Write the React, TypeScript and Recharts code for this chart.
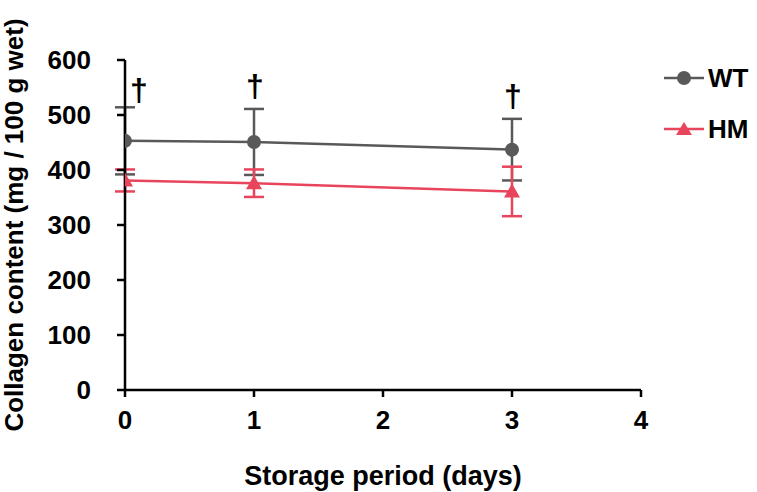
import React from "react";
import {
  ComposedChart,
  Line,
  Scatter,
  XAxis,
  YAxis,
  Legend,
  ErrorBar,
} from "recharts";

const FONT = "'Liberation Sans', Arial, sans-serif";
const WT_COLOR = "#595959";
const HM_COLOR = "#E8455C";

// storage days
const days = [0, 1, 3];
// wild type
const wtMean = [453, 451, 437];
const wtSd = [61, 60, 56];
// HM
const hmMean = [381, 376, 361];
const hmSd = [20, 25, 45];

const xTicks = [0, 1, 2, 3, 4];
const yTicks = [0, 100, 200, 300, 400, 500, 600];

const data = days.map((d, i) => ({
  day: d,
  wt: wtMean[i],
  wtErr: wtSd[i],
  hm: hmMean[i],
  hmErr: hmSd[i],
}));

// dagger marks sit on top of the WT error bar
const daggers = days.map((d, i) => ({ day: d, top: wtMean[i] + wtSd[i] }));

const tickStyle = { fontFamily: FONT, fontSize: 26, fontWeight: 700, fill: "#000" };
const labelStyle = { fontFamily: FONT, fontSize: 26, fontWeight: 700, fill: "#000" };

const Dagger = (props: any) => {
  const { cx, cy, payload } = props;
  if (cx == null || cy == null) return null;
  const first = payload.day === 0;
  return (
    <text
      x={cx + (first ? 14 : 1)}
      y={cy - (first ? 6 : 12)}
      textAnchor="middle"
      fontFamily={FONT}
      fontSize={32}
      fontWeight={700}
      fill="#000"
    >
      †
    </text>
  );
};

const legendItems = [
  { name: "WT", color: WT_COLOR, shape: "circle" },
  { name: "HM", color: HM_COLOR, shape: "triangle" },
];

const LegendBox = () => (
  <div style={{ fontFamily: FONT }}>
    {legendItems.map((it, i) => (
      <div
        key={it.name}
        style={{ display: "flex", alignItems: "center", height: 30, marginBottom: i === 0 ? 21 : 0 }}
      >
        <svg width={44} height={30}>
          <line x1={2} y1={15} x2={42} y2={15} stroke={it.color} strokeWidth={2.5} />
          {it.shape === "circle" ? (
            <circle cx={22} cy={15} r={7} fill={it.color} />
          ) : (
            <polygon points="22,8 30,21 14,21" fill={it.color} />
          )}
        </svg>
        <span style={{ fontSize: 26, fontWeight: 700, color: "#000", marginLeft: 2 }}>{it.name}</span>
      </div>
    ))}
  </div>
);

const Triangle = (props: any) => {
  const { cx, cy } = props;
  if (cx == null || cy == null) return null;
  return <polygon points={`${cx},${cy - 8} ${cx + 8},${cy + 6} ${cx - 8},${cy + 6}`} fill={HM_COLOR} />;
};

export default function App() {
  return (
    <div style={{ width: 757, height: 492, background: "#fff" }}>
      <style>{"body{margin:0}"}</style>
      <ComposedChart width={757} height={492} data={data} margin={{ top: 60, right: 21, left: 0, bottom: 0 }}>
        <XAxis
          dataKey="day"
          type="number"
          domain={[0, 4]}
          ticks={xTicks}
          allowDataOverflow
          height={102}
          tick={tickStyle}
          tickSize={7}
          tickMargin={14}
          axisLine={{ stroke: "#000", strokeWidth: 2.5 }}
          tickLine={{ stroke: "#000", strokeWidth: 2.5 }}
          label={{
            value: "Storage period (days)",
            position: "insideBottom",
            offset: 7,
            style: { ...labelStyle, fontSize: 27 },
          }}
        />
        <YAxis
          type="number"
          domain={[0, 600]}
          ticks={yTicks}
          width={125}
          tick={{ ...tickStyle, dx: -24 }}
          tickSize={8}
          axisLine={{ stroke: "#000", strokeWidth: 2.5 }}
          tickLine={{ stroke: "#000", strokeWidth: 2.5 }}
          label={{
            value: "Collagen content (mg / 100 g wet)",
            angle: -90,
            position: "insideLeft",
            offset: 14,
            style: { ...labelStyle, textAnchor: "middle" },
          }}
        />
        <Legend
          verticalAlign="top"
          align="right"
          layout="vertical"
          wrapperStyle={{ top: 63, left: 662, width: 95 }}
          content={() => <LegendBox />}
        />
        <Line
          dataKey="wt"
          name="WT"
          stroke={WT_COLOR}
          strokeWidth={2.5}
          dot={{ r: 7, fill: WT_COLOR, stroke: "none" }}
          activeDot={false}
          isAnimationActive={false}
        >
          <ErrorBar dataKey="wtErr" width={10} stroke={WT_COLOR} strokeWidth={2.5} />
        </Line>
        <Line
          dataKey="hm"
          name="HM"
          stroke={HM_COLOR}
          strokeWidth={2.5}
          dot={<Triangle />}
          activeDot={false}
          isAnimationActive={false}
        >
          <ErrorBar dataKey="hmErr" width={10} stroke={HM_COLOR} strokeWidth={2.5} />
        </Line>
        <Scatter
          data={daggers}
          dataKey="top"
          shape={<Dagger />}
          legendType="none"
          isAnimationActive={false}
        />
      </ComposedChart>
    </div>
  );
}
